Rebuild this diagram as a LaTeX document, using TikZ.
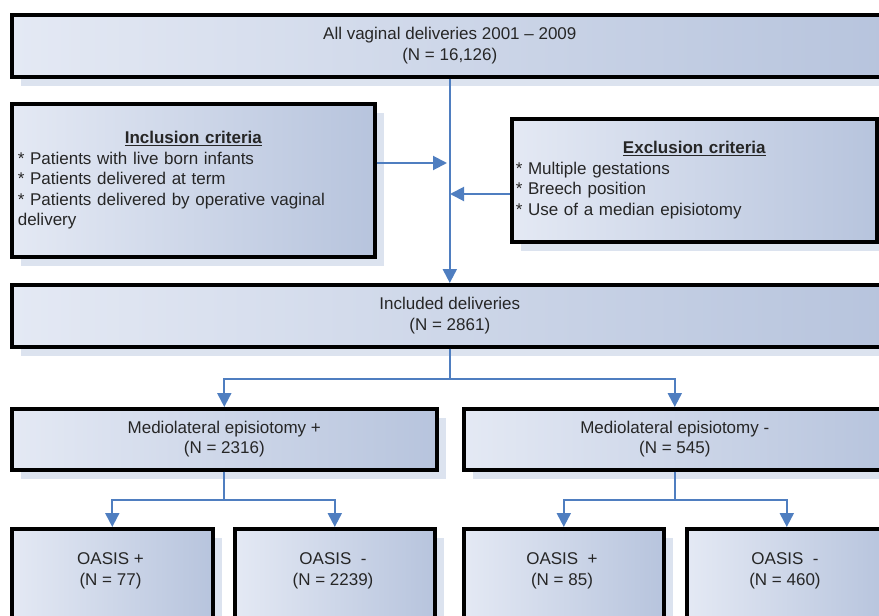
\documentclass[tikz,border=0pt]{standalone}
\usepackage{fontspec}
\setmainfont{Liberation Sans}
\usetikzlibrary{arrows.meta,shadows,calc}
\definecolor{boxl}{HTML}{E4E9F4}
\definecolor{boxr}{HTML}{B7C4DD}
\definecolor{shad}{HTML}{DCE3EF}
\definecolor{arrc}{HTML}{4F7EC0}
\tikzset{
  box/.style={draw=black, line width=3.6pt, left color=boxl, right color=boxr,
    anchor=north west, inner sep=0pt, align=center,
    font=\fontsize{17}{20.5}\selectfont, text=black!85,
    drop shadow={shadow xshift=9pt, shadow yshift=-9pt, fill=shad, opacity=1}},
  lbl/.style={align=center, font=\fontsize{17}{20.5}\selectfont, text=black!85, inner sep=0pt},
  conn/.style={draw=arrc, line width=2pt, -{Triangle[length=14pt,width=14pt]}}
}
\begin{document}
\begin{tikzpicture}[x=1pt,y=1pt]
\useasboundingbox (0,0) rectangle (879,-616);
\clip (0,0) rectangle (879,-616);

\node[box, minimum width=876pt, minimum height=62pt] (top) at (10,-13)
  {All vaginal deliveries 2001 – 2009\\(N = 16,126)};

\node[box, minimum width=363pt, minimum height=153pt, text width=351pt, inner xsep=6pt, align=left] (incl) at (10,-102)
  {\hspace*{\fill}\textbf{\underline{Inclusion criteria}}\hspace*{\fill}\null\\{}%
   * Patients with live born infants\\{}%
   * Patients delivered at term\\{}%
   * Patients delivered by operative vaginal\\{}%
   delivery};

\node[box, minimum width=365pt, minimum height=123pt, text width=357pt, inner xsep=4pt, align=left] (excl) at (510,-117)
  {\hspace*{\fill}\textbf{\underline{Exclusion criteria}}\hspace*{\fill}\null\\{}%
   * Multiple gestations\\{}%
   * Breech position\\{}%
   * Use of a median episiotomy};

\node[box, minimum width=876pt, minimum height=62pt] (inc) at (10,-283)
  {Included deliveries\\(N = 2861)};

\node[box, minimum width=425pt, minimum height=61pt] (med1) at (10,-407)
  {Mediolateral episiotomy +\\(N = 2316)};
\node[box, minimum width=422pt, minimum height=61pt] (med2) at (462,-407)
  {Mediolateral episiotomy -\\(N = 545)};

\node[box, minimum width=201pt, minimum height=97pt] (o1) at (10,-527) {};
\node[box, minimum width=200pt, minimum height=97pt] (o2) at (233,-527) {};
\node[box, minimum width=200pt, minimum height=97pt] (o3) at (462,-527) {};
\node[box, minimum width=200pt, minimum height=97pt] (o4) at (685,-527) {};

\node[lbl] (t1) at (110.5,-571) {OASIS +\\(N = 77)};
\node[lbl] (t2) at (333,-571) {OASIS\ \ -\\(N = 2239)};
\node[lbl] (t3) at (562,-571) {OASIS\ \ +\\(N = 85)};
\node[lbl] (t4) at (785,-571) {OASIS\ \ -\\(N = 460)};

\coordinate (inA) at (447,-163);
\coordinate (exA) at (450,-194);
\draw[conn] (top.south) -- (inc.north);
\draw[conn] (incl.east |- inA) -- (inA);
\draw[conn] (excl.west |- exA) -- (exA);

\draw[conn] (inc.south) -- ++(0,-30) -| (med1.north);
\draw[conn] (inc.south) -- ++(0,-30) -| (med2.north);

\draw[conn] (med1.south) -- ++(0,-28) -| (o1.north);
\draw[conn] (med1.south) -- ++(0,-28) -| (o2.north);
\draw[conn] (med2.south) -- ++(0,-28) -| (o3.north);
\draw[conn] (med2.south) -- ++(0,-28) -| (o4.north);
\end{tikzpicture}
\end{document}
